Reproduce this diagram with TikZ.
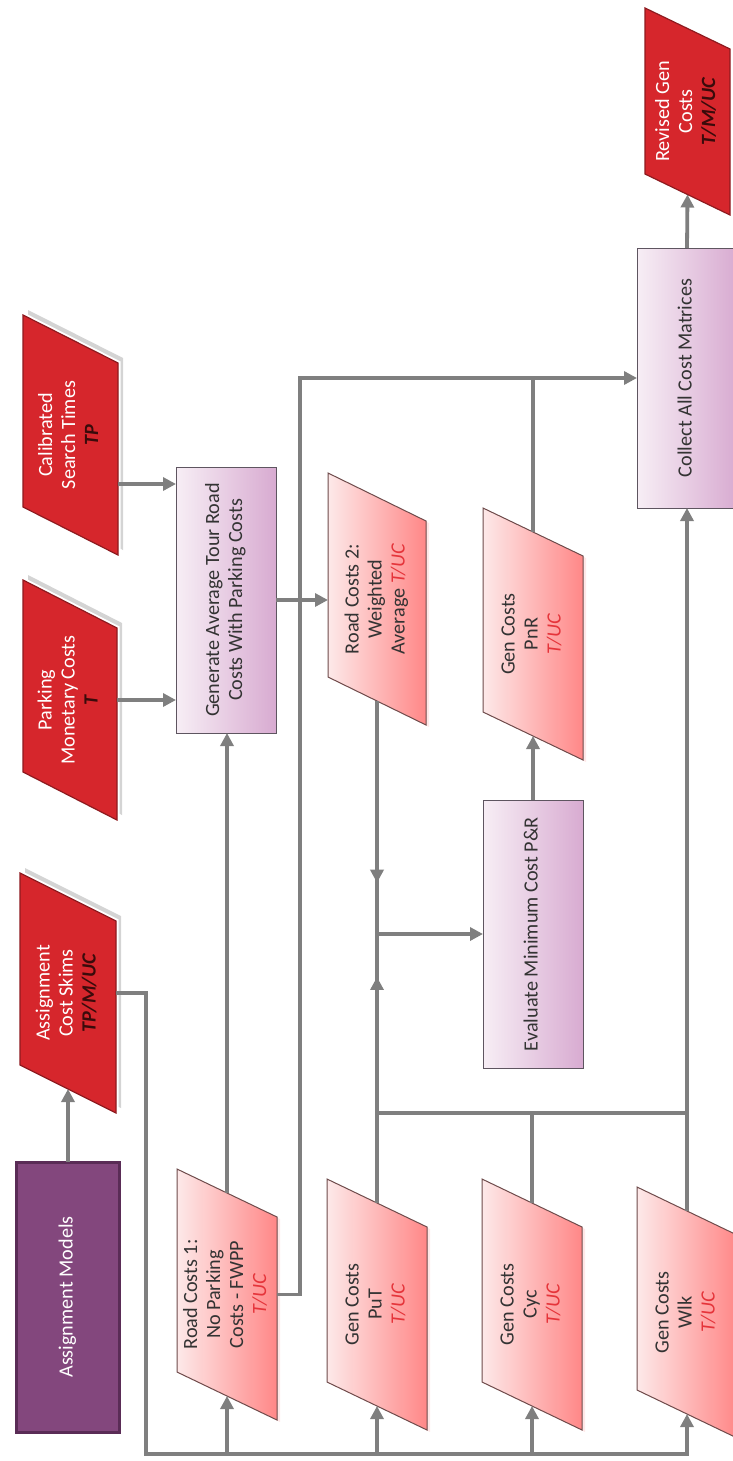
\documentclass[tikz,border=0pt]{standalone}
\usepackage{fontspec}
\setmainfont{Carlito}
\usepackage{graphicx}
\usetikzlibrary{arrows.meta,backgrounds,decorations.markings}

\definecolor{linegray}{HTML}{7F7F7F}
\definecolor{inred}{HTML}{D6262C}
\definecolor{inredborder}{HTML}{8E1A1F}
\definecolor{pinklight}{HTML}{FDE9E9}
\definecolor{pinkdark}{HTML}{FF8787}
\definecolor{pinkborder}{HTML}{6E4B4B}
\definecolor{lilaclight}{HTML}{F7EEF5}
\definecolor{lilacdark}{HTML}{D8ABD1}
\definecolor{lilacborder}{HTML}{5E5560}
\definecolor{plum}{HTML}{83477D}
\definecolor{plumborder}{HTML}{5A2C56}
\definecolor{tucred}{HTML}{E5343A}
\definecolor{codedark}{HTML}{3A0B0B}
\definecolor{textdark}{HTML}{333333}

\newcommand\tuc{\textcolor{tucred}{\itshape T/UC}}
\newcommand\code[1]{\textcolor{codedark}{\bfseries\itshape #1}}
\newcommand\vtext[1]{\rotatebox{90}{\begin{tabular}{@{}c@{}}#1\end{tabular}}}

% parallelogram (data) outline filling a node's box: vertical sides,
% top and bottom edges falling by #3 towards the right, moved by (#4,#5)
\newcommand\datashape[5]{%
  \path[#2] ([shift={(#4,#5)}]#1.north west)
    -- ([shift={(#4,#5-#3)}]#1.north east)
    -- ([shift={(#4,#5)}]#1.south east)
    -- ([shift={(#4,#5+#3)}]#1.south west) -- cycle;}

\begin{document}
\begin{tikzpicture}[x=0.5pt, y=-0.5pt,
  font=\fontsize{10.1}{11.5}\selectfont,
  holder/.style={inner sep=0pt, outer sep=0pt, text=textdark},
  lightholder/.style={holder, text=white},
  procbox/.style={holder, left color=lilaclight, right color=lilacdark,
    draw=lilacborder, line width=0.5pt},
  darkdata/.style={fill=inred, draw=inredborder, line width=0.6pt},
  darkhalo/.style={draw=white, line width=2.5pt},
  darkshadow/.style={fill=black!17},
  pinkdata/.style={left color=pinklight, right color=pinkdark,
    draw=pinkborder, line width=0.5pt},
  pinkshadow/.style={fill=red!9},
  conn/.style={draw, color=linegray, line width=1.9pt},
  arr/.style={conn, -{Triangle[length=6.5pt,width=6.5pt]}},
  midarrow/.style={postaction={decorate}, decoration={markings,
    mark=at position #1 with {\arrow{Triangle[length=6.5pt,width=6.5pt]}}}}]

\useasboundingbox (0,0) rectangle (733,1461);

% ---- nodes ----
\node[holder, text=white, fill=plum, draw=plumborder, line width=1.5pt,
  minimum width=51.5pt, minimum height=135pt] (models) at (68,1297)
  {\vtext{Assignment Models}};

\node[lightholder, minimum width=48pt, minimum height=120pt] (skims) at (68,993)
  {\vtext{Assignment\\Cost Skims\\\code{TP/M/UC}}};
\node[lightholder, minimum width=47pt, minimum height=120pt] (park) at (70,700)
  {\vtext{Parking\\Monetary Costs\\\code{T}}};
\node[lightholder, minimum width=47.5pt, minimum height=120pt] (cal) at (70.5,435)
  {\vtext{Calibrated\\Search Times\\\code{TP}}};

\node[procbox, minimum width=50pt, minimum height=133pt] (gen) at (226,600)
  {\vtext{Generate Average Tour Road\\Costs With Parking Costs}};

\node[holder, minimum width=50pt, minimum height=125.5pt] (road1) at (227,1294.5)
  {\vtext{Road Costs 1:\\No Parking\\Costs - FWPP\\\tuc}};
\node[holder, minimum width=49pt, minimum height=126pt] (road2) at (377,599)
  {\vtext{Road Costs 2:\\Weighted\\Average \tuc}};
\node[holder, minimum width=50pt, minimum height=126pt] (pnr) at (533,634)
  {\vtext{Gen Costs\\PnR\\\tuc}};

\node[procbox, minimum width=50pt, minimum height=134pt] (eval) at (533,934)
  {\vtext{Evaluate Minimum Cost P\&R}};
\node[procbox, minimum width=50pt, minimum height=130pt] (collect) at (687,378)
  {\vtext{Collect All Cost Matrices}};

\node[lightholder, minimum width=42.5pt, minimum height=103.5pt] (revised) at (687.5,111.5)
  {\vtext{Revised Gen\\Costs\\\code{T/M/UC}}};

\node[holder, minimum width=50pt, minimum height=125.5pt] (put) at (377,1304.5)
  {\vtext{Gen Costs\\PuT\\\tuc}};
\node[holder, minimum width=50pt, minimum height=125.5pt] (cyc) at (532,1304.5)
  {\vtext{Gen Costs\\Cyc\\\tuc}};
\node[holder, minimum width=50pt, minimum height=125.5pt] (wlk) at (687,1312.5)
  {\vtext{Gen Costs\\Wlk\\\tuc}};

% ---- data shapes behind the texts ----
\begin{pgfonlayer}{background}
  \foreach \n in {skims,park,cal}{
    \datashape{\n}{darkshadow}{24pt}{2.5pt}{2.5pt}
    \datashape{\n}{darkhalo}{24pt}{0pt}{0pt}
    \datashape{\n}{darkdata}{24pt}{0pt}{0pt}}
  \datashape{revised}{darkdata}{20.5pt}{0pt}{0pt}
  \foreach \n in {road1,road2,pnr,put,cyc,wlk}{
    \datashape{\n}{pinkshadow}{24pt}{1.5pt}{-1pt}
    \datashape{\n}{pinkdata}{24pt}{0pt}{0pt}}
\end{pgfonlayer}

% ---- connectors ----
\coordinate (bus) at (146,1454);
\coordinate (topbus) at (300,378);
\coordinate (lowbus) at (377,1113);

\draw[arr] (models.north) -- ([yshift=12pt]skims.south);
\draw[arr] (skims.east) -| (bus) -| ([yshift=12pt]wlk.south);
\foreach \n in {road1,put,cyc}
  \draw[arr] (\n.south |- bus) -- ([yshift=12pt]\n.south);

\draw[arr] ([yshift=-24.5pt]cal.east) coordinate (calout) -- (calout -| gen.west);
\draw[arr] (park.east) -- (park.east -| gen.west);

\draw[arr] ([yshift=-12pt]road1.north) -- (road1.north |- gen.south);
\draw[arr] (road1.east) -| (topbus) -- (collect.west);
\draw[arr] (gen.east) -- (gen.east -| road2.west);

\draw[conn, midarrow=0.78] ([yshift=12pt]road2.south) -- (road2.south |- eval.west);
\draw[conn, midarrow=0.76] (lowbus) -- (lowbus |- eval.west);
\draw[arr] (lowbus |- eval.west) -- (eval.west);

\draw[conn] ([yshift=-12pt]put.north) -- (lowbus) -- (lowbus -| wlk.north);
\draw[conn] ([yshift=-12pt]cyc.north) -- (cyc.north |- lowbus);
\draw[arr] ([yshift=-12pt]wlk.north) -- (wlk.north |- collect.south);

\draw[arr] (eval.north) -- ([yshift=12pt]pnr.south);
\draw[conn] ([yshift=-12pt]pnr.north) -- (pnr.north |- topbus);
\draw[arr] (collect.north) -- ([yshift=10.25pt]revised.south);

\end{tikzpicture}
\end{document}
